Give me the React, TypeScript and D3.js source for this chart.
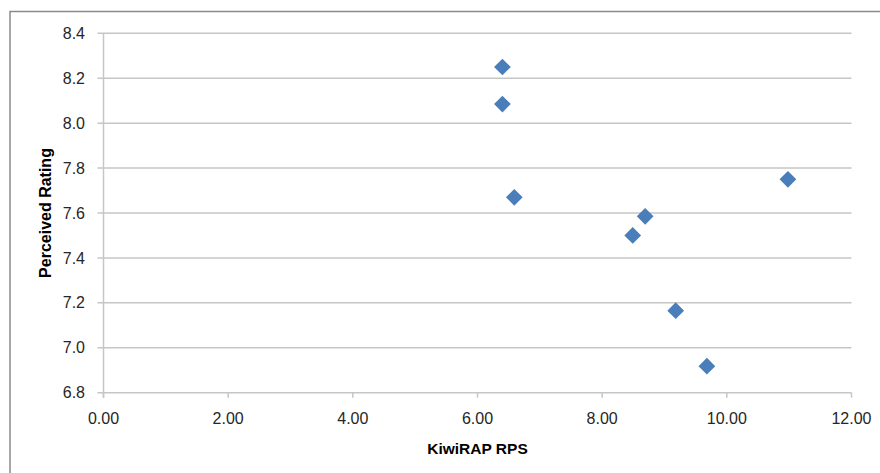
import React from "react";
import * as d3 from "d3";

const rpsValues = [6.4, 6.4, 6.59, 10.98, 8.69, 8.49, 9.18, 9.68];
const ratingValues = [8.25, 8.085, 7.67, 7.75, 7.585, 7.5, 7.165, 6.918];
const xTicks = [0, 2, 4, 6, 8, 10, 12];
const yTicks = [6.8, 7.0, 7.2, 7.4, 7.6, 7.8, 8.0, 8.2, 8.4];
const xTitle = "KiwiRAP RPS";
const yTitle = "Perceived Rating";

const W = 880;
const H = 473;
const left = 103.5;
const right = 851.5;
const top = 33.3;
const bottom = 392.7;

export default function App() {
  const x = d3.scaleLinear().domain([0, 12]).range([left, right]);
  const y = d3.scaleLinear().domain([6.8, 8.4]).range([bottom, top]);
  const diamond = d3.symbol().type(d3.symbolSquare).size(140)() as string;
  const font = "'Liberation Sans', Arial, sans-serif";
  const grid = "#c6c6c6";
  return (
    <svg
      width={W}
      height={H}
      style={{ position: "absolute", left: 0, top: 0, background: "#fff" }}
      fontFamily={font}
    >
      <rect x={10} y={11.5} width={900} height={500} fill="#fff" stroke="#8a8a8a" strokeWidth={1.5} />
      {yTicks.map((t) => (
        <g key={"y" + t}>
          <line x1={left - 6} x2={right} y1={y(t)} y2={y(t)} stroke={grid} strokeWidth={1.5} />
          <text x={85} y={y(t)} dy="0.35em" textAnchor="end" fontSize={16} fill="#262626">
            {t.toFixed(1)}
          </text>
        </g>
      ))}
      <line x1={left} x2={left} y1={top} y2={bottom + 5} stroke={grid} strokeWidth={1.5} />
      {xTicks.map((t) => (
        <g key={"x" + t}>
          <line x1={x(t)} x2={x(t)} y1={bottom} y2={bottom + 5} stroke={grid} strokeWidth={1.5} />
          <text x={x(t)} y={424} textAnchor="middle" fontSize={16} fill="#262626">
            {t.toFixed(2)}
          </text>
        </g>
      ))}
      <text x={(left + right) / 2} y={454} textAnchor="middle" fontSize={15.5} fontWeight="bold" fill="#000">
        {xTitle}
      </text>
      <text
        transform={`translate(51,${(top + bottom) / 2}) rotate(-90)`}
        textAnchor="middle"
        fontSize={16}
        fontWeight="bold"
        fill="#000"
      >
        {yTitle}
      </text>
      {rpsValues.map((v, i) => (
        <path
          key={"p" + i}
          d={diamond}
          transform={`translate(${x(v)},${y(ratingValues[i])}) rotate(45)`}
          fill="#4a7ebb"
        />
      ))}
    </svg>
  );
}
